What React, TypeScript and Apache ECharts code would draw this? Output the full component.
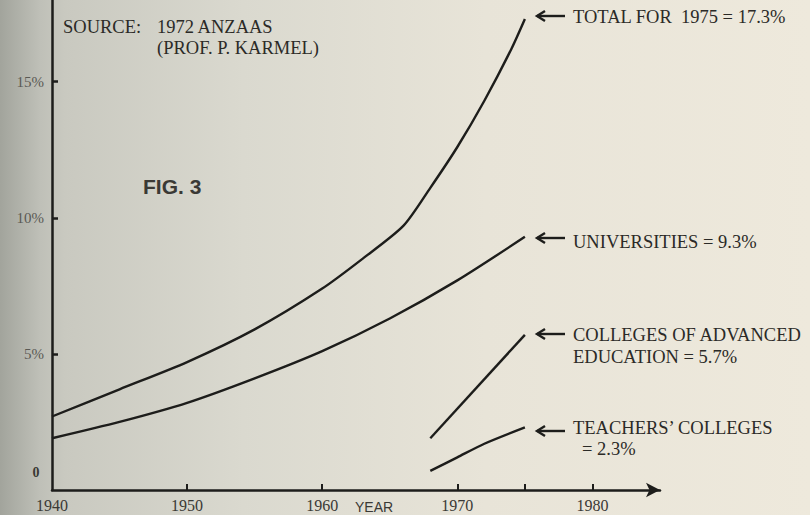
import React, { useEffect, useRef } from "react";
import * as echarts from "echarts";

// Share of age group in higher education (%)
const totalData: [number, number][] = [
  [1940, 2.7], [1945, 3.7], [1950, 4.7], [1955, 5.9], [1960, 7.4], [1963, 8.5],
  [1966, 9.7], [1968, 11.1], [1970, 12.6], [1972, 14.3], [1974, 16.2], [1975, 17.3],
];
const universitiesData: [number, number][] = [
  [1940, 1.9], [1945, 2.5], [1950, 3.2], [1955, 4.1], [1960, 5.1], [1965, 6.3],
  [1970, 7.7], [1975, 9.3],
];
const caeData: [number, number][] = [[1968, 1.9], [1975, 5.7]];
const teachersData: [number, number][] = [[1968, 0.7], [1970, 1.2], [1972, 1.7], [1975, 2.3]];

const yLabelValues = [5, 10, 15];
const xLabelValues = [1940, 1950, 1960, 1970, 1980];
const xTickValues = [1950, 1960, 1970, 1975, 1980];

const INK = "#1d1d1b";
const TEXT = "#2b2a27";
const SERIF = "'Liberation Serif', 'DejaVu Serif', serif";
const SANS = "'Liberation Sans', Arial, sans-serif";

function arrow(y: number) {
  return [
    { type: "line", shape: { x1: 537, y1: y, x2: 565, y2: y }, style: { stroke: INK, lineWidth: 2.4 } },
    {
      type: "polyline",
      shape: { points: [[545, y - 5], [537, y], [545, y + 5]] },
      style: { stroke: INK, lineWidth: 2.4, fill: null },
    },
  ];
}

function label(text: string, x: number, y: number) {
  return {
    type: "text",
    x,
    y,
    style: { text, fill: TEXT, font: `18.5px ${SERIF}`, textVerticalAlign: "middle" },
  };
}

export default function App() {
  const ref = useRef<HTMLDivElement>(null);
  useEffect(() => {
    if (!ref.current) return;
    const chart = echarts.init(ref.current, null, { renderer: "svg" });
    const lineSeries = (name: string, data: [number, number][]) => ({
      name,
      type: "line",
      data,
      showSymbol: false,
      smooth: 0.25,
      lineStyle: { color: INK, width: 2.4 },
      itemStyle: { color: INK },
    });
    chart.setOption({
      animation: false,
      backgroundColor: {
        type: "linear",
        x: 0, y: 0, x2: 1, y2: 0,
        colorStops: [
          { offset: 0, color: "#a2a49c" },
          { offset: 0.05, color: "#bfc0b8" },
          { offset: 0.08, color: "#c9c9c0" },
          { offset: 0.3, color: "#dad9cf" },
          { offset: 0.6, color: "#e8e4d8" },
          { offset: 1, color: "#eee9dc" },
        ],
      },
      grid: { left: 52, right: 150, top: -4, bottom: 25 },
      xAxis: {
        type: "value",
        min: 1940,
        max: 1985,
        interval: 5,
        axisLine: {
          show: true,
          lineStyle: { color: INK, width: 2.5 },
          symbol: ["none", "arrow"],
          symbolSize: [11, 14],
        },
        axisTick: {
          show: true,
          inside: true,
          length: 6,
          customValues: xTickValues,
          lineStyle: { color: INK, width: 2 },
        },
        axisLabel: {
          customValues: xLabelValues,
          formatter: (v: number) => String(v),
          color: "#3a3935",
          fontFamily: SERIF,
          fontSize: 16,
          margin: 7,
        },
        splitLine: { show: false },
      },
      yAxis: {
        type: "value",
        min: 0,
        max: 18,
        interval: 5,
        axisLine: { show: true, lineStyle: { color: INK, width: 2.5 } },
        axisTick: {
          show: true,
          inside: true,
          length: 6,
          customValues: yLabelValues,
          lineStyle: { color: INK, width: 2.5 },
        },
        axisLabel: {
          customValues: yLabelValues,
          formatter: (v: number) => `${v}%`,
          color: "#5a5954",
          fontFamily: SERIF,
          fontSize: 15,
          margin: 8,
        },
        splitLine: { show: false },
      },
      series: [
        lineSeries("Total", totalData),
        lineSeries("Universities", universitiesData),
        { ...lineSeries("Colleges of Advanced Education", caeData), smooth: false },
        lineSeries("Teachers' Colleges", teachersData),
      ],
      graphic: [
        { type: "text", x: 63, y: 27, style: { text: "SOURCE:", fill: TEXT, font: `18.5px ${SERIF}`, textVerticalAlign: "middle" } },
        { type: "text", x: 157, y: 27, style: { text: "1972 ANZAAS", fill: TEXT, font: `18.5px ${SERIF}`, textVerticalAlign: "middle" } },
        { type: "text", x: 157, y: 48, style: { text: "(PROF. P. KARMEL)", fill: TEXT, font: `18.5px ${SERIF}`, textVerticalAlign: "middle" } },
        { type: "text", x: 143, y: 186, style: { text: "FIG. 3", fill: "#3a3935", font: `bold 21px ${SANS}`, textVerticalAlign: "middle" } },
        { type: "text", x: 36, y: 472, style: { text: "0", fill: "#3a3935", font: `bold 14px ${SERIF}`, textAlign: "center", textVerticalAlign: "middle" } },
        { type: "text", x: 355, y: 500, style: { text: "YEAR", fill: "#3a3935", font: `14px ${SANS}` } },
        ...arrow(16),
        label("TOTAL FOR  1975 = 17.3%", 573, 17),
        ...arrow(238),
        label("UNIVERSITIES = 9.3%", 573, 242),
        ...arrow(334),
        label("COLLEGES OF ADVANCED", 573, 335),
        label("EDUCATION = 5.7%", 573, 357),
        ...arrow(431),
        label("TEACHERS\u2019 COLLEGES", 573, 428),
        label("= 2.3%", 582, 449),
      ],
    });
    return () => chart.dispose();
  }, []);
  return (
    <div
      ref={ref}
      style={{ position: "fixed", left: 0, top: 0, width: 810, height: 515 }}
    />
  );
}
